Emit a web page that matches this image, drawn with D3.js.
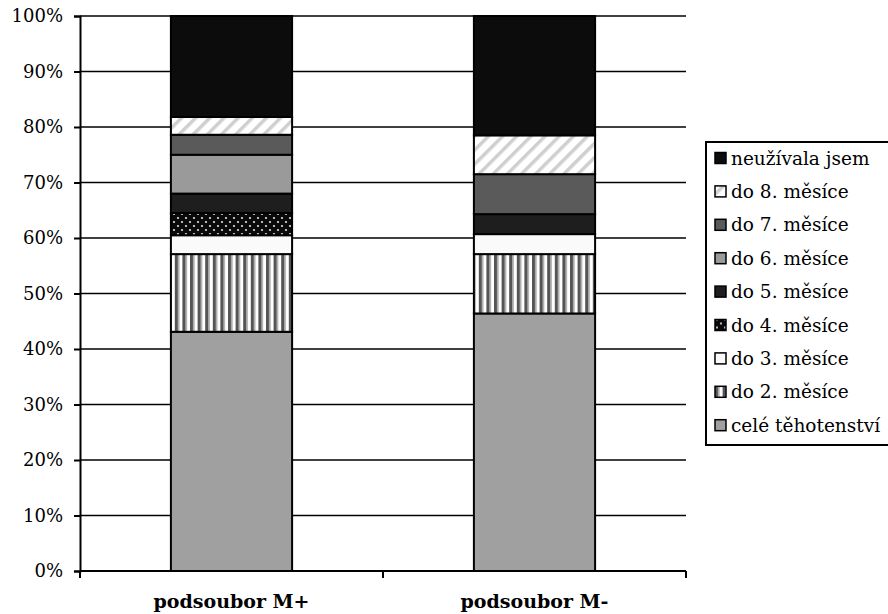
<!DOCTYPE html>
<html>
<head>
<meta charset="utf-8">
<script src="https://cdn.jsdelivr.net/npm/d3@7/dist/d3.min.js"></script>
<style>
  body { margin: 0; background: #fff; }
  svg { display: block; }
  svg text { font-family: "DejaVu Serif", serif; }
</style>
</head>
<body>
<svg id="chart" width="888" height="614"></svg>
<script>
// Categories (x axis)
const categories = ["podsoubor M+", "podsoubor M-"];
// Stack series, bottom to top (percent of each subgroup)
const seriesNames = ["celé těhotenství", "do 2. měsíce", "do 3. měsíce", "do 4. měsíce",
                     "do 5. měsíce", "do 6. měsíce", "do 7. měsíce", "do 8. měsíce", "neužívala jsem"];
const valuesMPlus  = [43.1, 14.0, 3.4, 4.0, 3.5, 7.0, 3.6, 3.2, 18.2];
const valuesMMinus = [46.4, 10.7, 3.6, 0.0, 3.6, 0.0, 7.2, 7.0, 21.5];
const yTicks = [0, 10, 20, 30, 40, 50, 60, 70, 80, 90, 100];

const FONT = "'DejaVu Serif', serif";
const svg = d3.select("#chart");
const defs = svg.append("defs");

// Fill patterns
const p8 = defs.append("pattern").attr("id", "diag").attr("patternUnits", "userSpaceOnUse")
  .attr("width", 10).attr("height", 10).attr("patternTransform", "rotate(45)");
p8.append("rect").attr("width", 10).attr("height", 10).attr("fill", "#ffffff");
p8.append("rect").attr("width", 3.5).attr("height", 10).attr("fill", "#cfcfcf");

const p2 = defs.append("pattern").attr("id", "vstripe").attr("patternUnits", "userSpaceOnUse")
  .attr("width", 7.6).attr("height", 10);
p2.append("rect").attr("width", 7.6).attr("height", 10).attr("fill", "#ffffff");
p2.append("rect").attr("x", 0).attr("width", 3.4).attr("height", 10).attr("fill", "#555555");
p2.append("rect").attr("x", 3.4).attr("width", 1.4).attr("height", 10).attr("fill", "#b8b8b8");

const p4 = defs.append("pattern").attr("id", "dots").attr("patternUnits", "userSpaceOnUse")
  .attr("width", 8).attr("height", 8);
p4.append("rect").attr("width", 8).attr("height", 8).attr("fill", "#0a0a0a");
p4.append("circle").attr("cx", 2).attr("cy", 2).attr("r", 1.1).attr("fill", "#e0e0e0");
p4.append("circle").attr("cx", 6).attr("cy", 6).attr("r", 1.1).attr("fill", "#e0e0e0");

const fills = {
  "celé těhotenství": "#a0a0a0",
  "do 2. měsíce": "url(#vstripe)",
  "do 3. měsíce": "#fafafa",
  "do 4. měsíce": "url(#dots)",
  "do 5. měsíce": "#1e1e1e",
  "do 6. měsíce": "#9a9a9a",
  "do 7. měsíce": "#5a5a5a",
  "do 8. měsíce": "url(#diag)",
  "neužívala jsem": "#0c0c0c"
};

const rows = categories.map((c, i) => {
  const vals = i === 0 ? valuesMPlus : valuesMMinus;
  const r = { cat: c };
  seriesNames.forEach((s, j) => r[s] = vals[j]);
  return r;
});

const plot = { left: 80, right: 686, top: 16, bottom: 571 };

const x = d3.scaleBand().domain(categories).range([plot.left, plot.right])
  .paddingInner(0.6).paddingOuter(0.3);
const y = d3.scaleLinear().domain([0, 100]).range([plot.bottom, plot.top]);

// Gridlines
svg.append("g").selectAll("line").data(yTicks.filter(d => d > 0)).join("line")
  .attr("x1", plot.left).attr("x2", plot.right)
  .attr("y1", d => y(d)).attr("y2", d => y(d))
  .attr("stroke", "#000").attr("stroke-width", 1.6);

// Stacked bars
const stack = d3.stack().keys(seriesNames)(rows);
svg.append("g").selectAll("g").data(stack).join("g")
  .attr("fill", d => fills[d.key])
  .selectAll("rect").data(d => d.filter(p => p[1] - p[0] > 0)).join("rect")
  .attr("x", d => x(d.data.cat))
  .attr("width", x.bandwidth())
  .attr("y", d => y(d[1]))
  .attr("height", d => y(d[0]) - y(d[1]))
  .attr("stroke", "#000").attr("stroke-width", 2);

// Y axis
const yAxis = svg.append("g").attr("transform", `translate(${plot.left},0)`)
  .call(d3.axisLeft(y).tickValues(yTicks).tickFormat(d => d + "%").tickSize(6).tickPadding(11));
yAxis.attr("font-family", FONT);
yAxis.select(".domain").attr("stroke", "#000").attr("stroke-width", 2);
yAxis.selectAll(".tick line").attr("stroke", "#000").attr("stroke-width", 2);
yAxis.selectAll(".tick text").attr("font-size", 18).attr("fill", "#000");

// X axis with ticks at category boundaries
const xAxis = svg.append("g").attr("transform", `translate(0,${plot.bottom})`);
xAxis.append("line").attr("x1", plot.left).attr("x2", plot.right)
  .attr("stroke", "#000").attr("stroke-width", 2);
const boundaries = [plot.left, (plot.left + plot.right) / 2, plot.right];
xAxis.selectAll(".bt").data(boundaries).join("line").attr("class", "bt")
  .attr("x1", d => d).attr("x2", d => d).attr("y1", 0).attr("y2", 7)
  .attr("stroke", "#000").attr("stroke-width", 2);
xAxis.selectAll(".cl").data(categories).join("text").attr("class", "cl")
  .attr("x", d => x(d) + x.bandwidth() / 2).attr("y", 37)
  .attr("text-anchor", "middle").attr("font-size", 19).attr("font-weight", "bold")
  .attr("font-family", FONT)
  .text(d => d);

// Legend
const legend = svg.append("g");
legend.append("rect").attr("x", 706).attr("y", 142).attr("width", 200).attr("height", 303)
  .attr("fill", "#fff").attr("stroke", "#000").attr("stroke-width", 2);
const legendOrder = seriesNames.slice().reverse();
const li = legend.selectAll(".li").data(legendOrder).join("g").attr("class", "li")
  .attr("transform", (d, i) => `translate(715,${158.5 + i * 33.4})`);
li.append("rect").attr("x", 0).attr("y", -6).attr("width", 11).attr("height", 11)
  .attr("fill", d => fills[d]).attr("stroke", "#000").attr("stroke-width", 1.5);
li.append("text").attr("x", 16).attr("y", 6).attr("font-size", 18.5)
  .attr("font-family", FONT).text(d => d);
</script>
</body>
</html>
